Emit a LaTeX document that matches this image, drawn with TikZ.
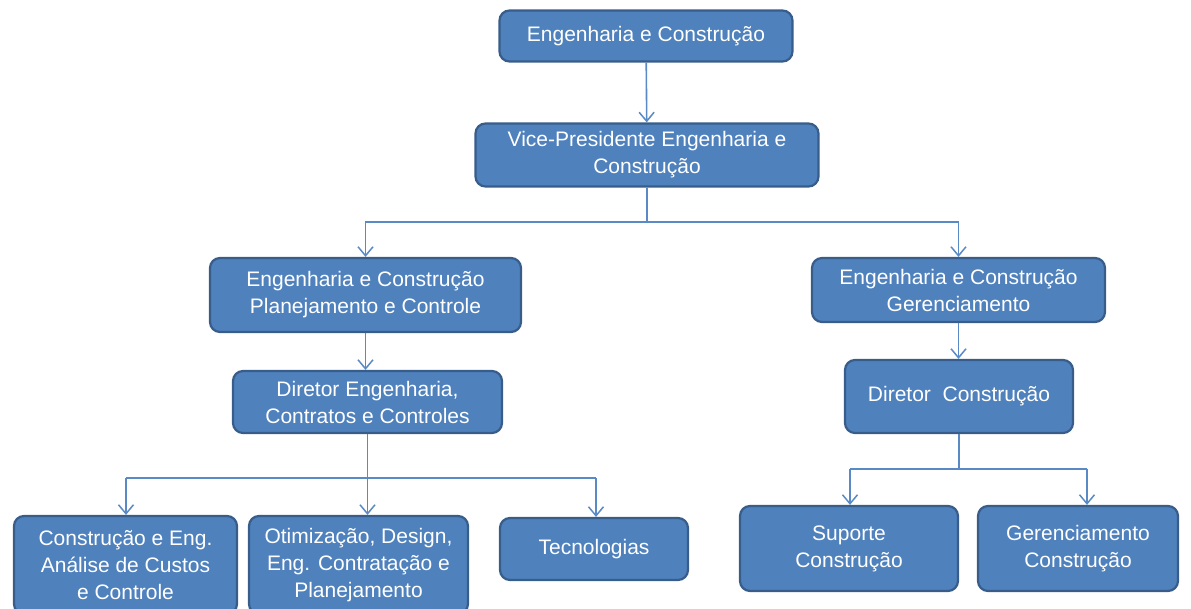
\documentclass[tikz,border=0pt]{standalone}
\usepackage{fontspec}
\setmainfont{Liberation Sans}
\usetikzlibrary{arrows.meta}
\definecolor{boxfill}{HTML}{4F81BD}
\definecolor{boxline}{HTML}{385D8A}
\definecolor{linkcol}{HTML}{5A8AC6}
\tikzset{
  orgbox/.style={draw=boxline, fill=boxfill, line width=2.2pt, rounded corners=10pt,
    text=white, align=center, inner sep=0pt, font=\fontsize{21}{27}\selectfont,
    minimum width=#1},
  link/.style={draw=linkcol, line width=1.6pt},
  arr/.style={link, -{Straight Barb[length=9pt,width=15pt,line width=1.5pt]}}
}
\begin{document}
\begin{tikzpicture}[x=1pt,y=1pt]
\useasboundingbox (0,0) rectangle (1191,-608);
\node[orgbox=293pt, minimum height=51pt] (top) at (646,-36) {\raisebox{-2pt}{Engenharia e Construção}};
\node[orgbox=343pt, minimum height=63pt] (vp) at (647,-155) {Vice-Presidente Engenharia e\\Construção};
\node[orgbox=311pt, minimum height=74pt] (b3) at (365.5,-295) {Engenharia e Construção\\Planejamento e Controle};
\node[orgbox=293pt, minimum height=64pt] (b4) at (958.5,-290) {Engenharia e Construção\\Gerenciamento};
\node[orgbox=269pt, minimum height=62pt] (b5) at (367.5,-402) {Diretor Engenharia,\\Contratos e Controles};
\node[orgbox=228pt, minimum height=73pt] (b6) at (959,-396.5) {Diretor \ Construção};
\node[orgbox=223pt, minimum height=98pt] (b7) at (125.5,-565) {Construção e Eng.\\Análise de Custos\\e Controle};
\node[orgbox=219pt, minimum height=98pt] (b8) at (358.5,-565) {Otimização, Design,\\Eng. Contratação e\\Planejamento};
\node[orgbox=188pt, minimum height=62pt] (b9) at (594,-549) {Tecnologias};
\node[orgbox=218pt, minimum height=85pt] (b10) at (849,-548.5) {Suporte\\Construção};
\node[orgbox=200pt, minimum height=85pt] (b11) at (1078,-548.5) {Gerenciamento\\Construção};

\coordinate (j1) at (647,-222);
\coordinate (j2) at (367.5,-478);
\coordinate (j3) at (959,-469);
\coordinate (l1) at (126,-478);
\coordinate (l3) at (596,-478);
\coordinate (r1) at (850,-469);
\coordinate (r2) at (1087,-469);

\draw[arr] (top) -- (vp);
\draw[link] (vp.south) -- (j1);
\draw[arr] (j1) -| (b3.north);
\draw[arr] (j1) -| (b4.north);
\draw[arr] (b3) -- (b3 |- b5.north);
\draw[arr] (b4) -- (b4 |- b6.north);
\draw[link] (b5.south) -- (j2);
\draw[link] (l1) -- (l3);
\draw[arr] (l1) -- (l1 |- b7.north);
\draw[arr] (j2) -- (j2 |- b8.north);
\draw[arr] (l3) -- (l3 |- b9.north);
\draw[link] (b6.south) -- (j3);
\draw[link] (r1) -- (r2);
\draw[arr] (r1) -- (r1 |- b10.north);
\draw[arr] (r2) -- (r2 |- b11.north);
\end{tikzpicture}
\end{document}
